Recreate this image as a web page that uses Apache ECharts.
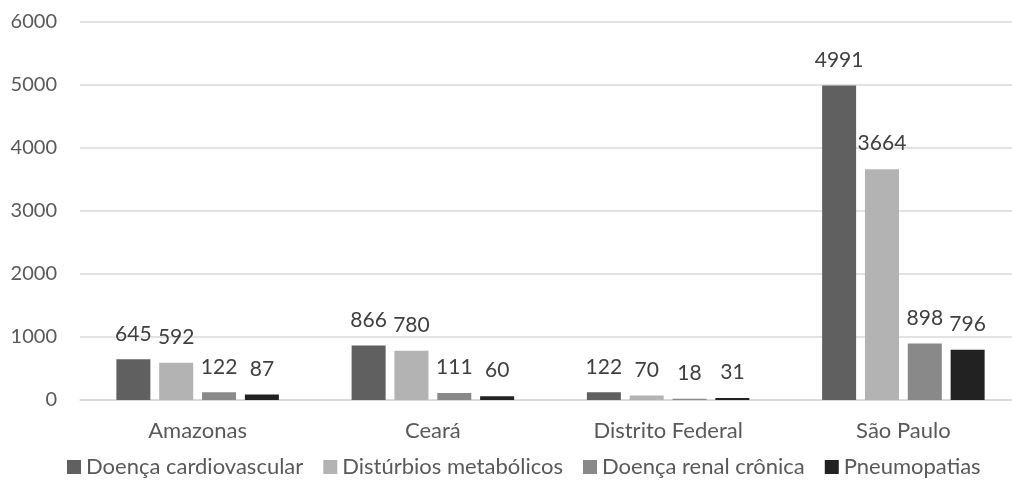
<!DOCTYPE html>
<html>
<head>
<meta charset="utf-8">
<script src="https://cdn.jsdelivr.net/npm/echarts@6/dist/echarts.min.js"></script>
<style>
html,body{margin:0;padding:0;background:#fff;overflow:hidden;width:1012px;height:494px;}
#chart{width:1021px;height:494px;}
</style>
</head>
<body>
<div id="chart"></div>
<script>
const categories = ['Amazonas', 'Ceará', 'Distrito Federal', 'São Paulo'];
const seriesNames = ['Doença cardiovascular', 'Distúrbios metabólicos', 'Doença renal crônica', 'Pneumopatias'];
const cardiovascular = [645, 866, 122, 4991];
const metabolicos = [592, 780, 70, 3664];
const renal = [122, 111, 18, 898];
const pneumopatias = [87, 60, 31, 796];
const yTicks = [0, 1000, 2000, 3000, 4000, 5000, 6000];

const colors = ['#606060', '#b3b3b3', '#898989', '#222222'];
const values = [cardiovascular, metabolicos, renal, pneumopatias];
const font = 'Lato, "Open Sans", sans-serif';
const textColor = '#595959';

const chart = echarts.init(document.getElementById('chart'));
chart.setOption({
  animation: false,
  color: colors,
  grid: { left: 80, top: 22, right: 0, height: 378, containLabel: false },
  legend: {
    bottom: 11,
    left: 62,
    itemWidth: 14,
    itemHeight: 14,
    itemGap: 20,
    icon: 'rect',
    textStyle: { color: textColor, fontSize: 22, fontFamily: font },
    data: seriesNames
  },
  xAxis: {
    type: 'category',
    data: categories,
    axisLine: { lineStyle: { color: '#d9d9d9', width: 1.5 } },
    axisTick: { show: false },
    axisLabel: { color: textColor, fontSize: 22, fontFamily: font, margin: 20 }
  },
  yAxis: {
    type: 'value',
    min: yTicks[0],
    max: yTicks[yTicks.length - 1],
    interval: 1000,
    axisLine: { show: false },
    axisTick: { show: false },
    splitLine: { lineStyle: { color: '#d9d9d9', width: 1.5 } },
    axisLabel: { color: textColor, fontSize: 20, fontFamily: font, margin: 23, formatter: v => String(v) }
  },
  series: seriesNames.map((name, i) => ({
    name: name,
    type: 'bar',
    data: values[i],
    barWidth: 34,
    barGap: '26%',
    itemStyle: { color: colors[i] },
    label: {
      show: true,
      position: 'top',
      distance: 15,
      color: '#404040',
      fontSize: 21,
      fontFamily: font
    }
  }))
});
</script>
</body>
</html>
